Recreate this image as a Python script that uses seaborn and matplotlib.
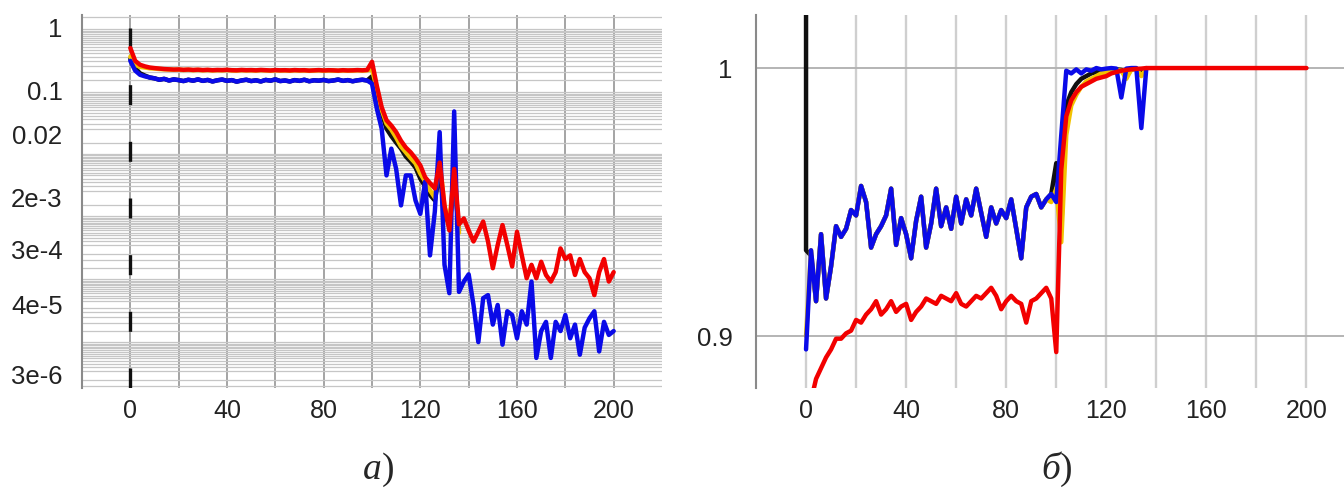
import numpy as np
import seaborn as sns
import matplotlib
matplotlib.use("Agg")
import matplotlib.pyplot as plt
from matplotlib import ticker

# epochs (every 2nd epoch)
epochs = np.arange(0, 201, 2)
epochs_short = np.arange(0, 137, 2)
# the black accuracy run starts with a vertical drop at epoch 0
epochs_black_b = np.r_[0, epochs_short]

# ---- panel a) : loss, log scale ----
loss_red = [
    0.48, 0.30, 0.26, 0.245, 0.235, 0.230, 0.226, 0.222, 0.220, 0.218,
    0.219, 0.216, 0.218, 0.215, 0.217, 0.214, 0.216, 0.213, 0.215, 0.214,
    0.216, 0.213, 0.212, 0.215, 0.213, 0.214, 0.212, 0.215, 0.213, 0.211,
    0.214, 0.212, 0.213, 0.211, 0.214, 0.212, 0.213, 0.210, 0.212, 0.214,
    0.211, 0.213, 0.212, 0.210, 0.213, 0.211, 0.212, 0.214, 0.212, 0.215,
    0.29, 0.12, 0.055, 0.034, 0.028, 0.022, 0.016, 0.0125, 0.0105, 0.0084,
    0.0065, 0.0042, 0.0034, 0.0028, 0.0072, 0.0015, 6.0e-4, 0.0057, 7.5e-4, 9.3e-4,
    6.0e-4, 4.0e-4, 5.7e-4, 8.3e-4, 4.0e-4, 1.5e-4, 3.5e-4, 7.3e-4, 3.5e-4, 1.6e-4,
    5.7e-4, 2.4e-4, 1.04e-4, 1.7e-4, 1.04e-4, 1.9e-4, 1.17e-4, 9.2e-5, 1.3e-4, 3.1e-4,
    2.1e-4, 2.4e-4, 1.17e-4, 2.1e-4, 1.3e-4, 1.04e-4, 5.6e-5, 1.3e-4, 2.1e-4, 9.2e-5,
    1.3e-4,
]
loss_blue = [
    0.30, 0.21, 0.18, 0.17, 0.163, 0.158, 0.150, 0.155, 0.146, 0.152,
    0.148, 0.143, 0.150, 0.145, 0.152, 0.144, 0.149, 0.141, 0.147, 0.151,
    0.144, 0.148, 0.140, 0.146, 0.150, 0.143, 0.147, 0.141, 0.149, 0.145,
    0.152, 0.143, 0.146, 0.141, 0.148, 0.144, 0.150, 0.142, 0.147, 0.145,
    0.149, 0.143, 0.146, 0.151, 0.144, 0.148, 0.142, 0.147, 0.150, 0.146,
    0.13, 0.052, 0.025, 0.0045, 0.012, 0.0057, 0.0015, 0.0045, 0.0045, 0.0018,
    0.0011, 0.0036, 2.4e-4, 0.0012, 0.022, 1.7e-4, 6.0e-5, 0.047, 6.3e-5, 9.2e-5,
    1.2e-4, 3.9e-5, 1.0e-5, 5.0e-5, 5.6e-5, 1.9e-5, 3.9e-5, 9.1e-6, 3.1e-5, 2.7e-5,
    1.15e-5, 3.1e-5, 1.9e-5, 9.2e-5, 5.6e-6, 1.5e-5, 2.1e-5, 5.6e-6, 2.1e-5, 1.5e-5,
    2.7e-5, 1.15e-5, 1.9e-5, 6.3e-6, 1.7e-5, 2.4e-5, 3.1e-5, 7.1e-6, 2.1e-5, 1.3e-5,
    1.5e-5,
]
# black and yellow runs are mostly hidden under the blue / red ones
loss_black = [
    0.32, 0.23, 0.19, 0.175, 0.163, 0.158, 0.150, 0.155, 0.146, 0.152,
    0.148, 0.143, 0.150, 0.145, 0.152, 0.144, 0.149, 0.141, 0.147, 0.151,
    0.144, 0.148, 0.140, 0.146, 0.150, 0.143, 0.147, 0.141, 0.149, 0.145,
    0.152, 0.143, 0.146, 0.141, 0.148, 0.144, 0.150, 0.142, 0.147, 0.145,
    0.149, 0.143, 0.146, 0.151, 0.144, 0.148, 0.142, 0.147, 0.150, 0.146,
    0.17, 0.10, 0.045, 0.025, 0.019, 0.015, 0.012, 0.009, 0.0075, 0.006,
    0.004, 0.003, 0.0022, 0.0018, 0.005, 0.0012, 7.0e-4, 0.004, 6.0e-4,
]
loss_yellow = [
    0.35, 0.26, 0.24, 0.235, 0.228, 0.226, 0.222, 0.22, 0.218, 0.216,
    0.217, 0.214, 0.216, 0.213, 0.215, 0.212, 0.214, 0.211, 0.213, 0.212,
    0.214, 0.211, 0.210, 0.213, 0.211, 0.212, 0.210, 0.213, 0.211, 0.209,
    0.212, 0.210, 0.211, 0.209, 0.212, 0.210, 0.211, 0.208, 0.210, 0.212,
    0.209, 0.211, 0.210, 0.208, 0.211, 0.209, 0.210, 0.212, 0.210, 0.212,
    0.22, 0.11, 0.05, 0.03, 0.024, 0.018, 0.013, 0.0105, 0.0085, 0.007,
    0.0048, 0.0036, 0.0026, 0.002, 0.008, 0.0014, 8.0e-4, 0.0055, 5.5e-4,
]
yticks_a = [1, 0.1, 0.02, 2e-3, 3e-4, 4e-5, 3e-6]
ylabels_a = ["1", "0.1", "0.02", "2e-3", "3e-4", "4e-5", "3e-6"]

# ---- panel б) : accuracy ----
acc_red = [
    0.870, 0.876, 0.884, 0.888, 0.892, 0.895, 0.899, 0.899, 0.901, 0.902,
    0.906, 0.905, 0.908, 0.910, 0.913, 0.908, 0.910, 0.913, 0.909, 0.911,
    0.912, 0.906, 0.909, 0.911, 0.914, 0.913, 0.912, 0.915, 0.914, 0.913,
    0.916, 0.912, 0.911, 0.913, 0.915, 0.914, 0.916, 0.918, 0.915, 0.910,
    0.913, 0.915, 0.913, 0.912, 0.905, 0.913, 0.914, 0.916, 0.918, 0.914,
    0.894, 0.962, 0.982, 0.988, 0.991, 0.993, 0.994, 0.995, 0.996, 0.9965,
    0.997, 0.998, 0.9985, 0.999, 0.9993, 0.9995, 0.9997, 0.9998, 1.0, 1.0,
    1.0, 1.0, 1.0, 1.0, 1.0, 1.0, 1.0, 1.0, 1.0, 1.0,
    1.0, 1.0, 1.0, 1.0, 1.0, 1.0, 1.0, 1.0, 1.0, 1.0,
    1.0, 1.0, 1.0, 1.0, 1.0, 1.0, 1.0, 1.0, 1.0, 1.0,
    1.0,
]
acc_blue = [
    0.895, 0.932, 0.913, 0.938, 0.914, 0.926, 0.941, 0.937, 0.940, 0.947,
    0.945, 0.956, 0.950, 0.933, 0.938, 0.941, 0.945, 0.955, 0.934, 0.944,
    0.938, 0.929, 0.943, 0.952, 0.933, 0.942, 0.955, 0.941, 0.948, 0.940,
    0.952, 0.942, 0.951, 0.945, 0.955, 0.946, 0.937, 0.948, 0.942, 0.947,
    0.944, 0.951, 0.940, 0.929, 0.948, 0.952, 0.953, 0.948, 0.951, 0.953,
    0.950, 0.975, 0.999, 0.998, 0.9995, 0.998, 0.9995, 0.999, 1.0, 0.9995,
    0.9998, 1.0, 0.9998, 0.989, 0.9998, 1.0, 1.0, 0.9776, 1.0,
]
acc_black = [
    1.03, 0.932, 0.93, 0.913, 0.938, 0.914, 0.926, 0.941, 0.937, 0.940, 0.947,
    0.945, 0.956, 0.950, 0.933, 0.938, 0.941, 0.945, 0.955, 0.934, 0.944,
    0.938, 0.929, 0.943, 0.952, 0.933, 0.942, 0.955, 0.941, 0.948, 0.940,
    0.952, 0.942, 0.951, 0.945, 0.955, 0.946, 0.937, 0.948, 0.942, 0.947,
    0.944, 0.951, 0.940, 0.929, 0.948, 0.952, 0.953, 0.948, 0.951, 0.953,
    0.9645, 0.94, 0.986, 0.991, 0.994, 0.996, 0.997, 0.998, 0.9985, 0.999,
    0.999, 0.9993, 0.9995, 0.9993, 0.997, 0.9995, 0.9997, 0.998, 0.9998,
]
acc_yellow = [
    0.90, 0.932, 0.913, 0.938, 0.914, 0.926, 0.941, 0.937, 0.940, 0.947,
    0.945, 0.956, 0.950, 0.933, 0.938, 0.941, 0.945, 0.955, 0.934, 0.944,
    0.938, 0.929, 0.943, 0.952, 0.933, 0.942, 0.955, 0.941, 0.948, 0.940,
    0.952, 0.942, 0.951, 0.945, 0.955, 0.946, 0.937, 0.948, 0.942, 0.947,
    0.944, 0.951, 0.940, 0.929, 0.948, 0.952, 0.953, 0.948, 0.951, 0.950,
    0.955, 0.935, 0.975, 0.986, 0.99, 0.993, 0.995, 0.996, 0.997, 0.998,
    0.9985, 0.999, 0.9993, 0.999, 0.996, 0.9995, 0.9997, 0.997, 0.9998,
]
yticks_b = [0.9, 1.0]
ylabels_b = ["0.9", "1"]

xticks = [0, 40, 80, 120, 160, 200]
xgrid = list(range(0, 201, 20))

RED, BLUE, BLACK, YELLOW = "#f20000", "#0a0ae8", "#101010", "#f2c200"

sns.set_theme(style="white")
plt.rcParams["font.family"] = ["Liberation Sans", "DejaVu Sans"]

fig = plt.figure(figsize=(13.44, 4.9), dpi=100)
ax_a = fig.add_axes([82 / 1344, 102 / 490, 580 / 1344, 373 / 490])
ax_b = fig.add_axes([756 / 1344, 102 / 490, 588 / 1344, 373 / 490])


def draw_series(ax, x, y, color):
    sns.lineplot(x=x, y=y, color=color, lw=3.2, ax=ax, estimator=None,
                 sort=False, legend=False, zorder=3)


# panel a
for y, c in [(loss_black, BLACK), (loss_yellow, YELLOW)]:
    draw_series(ax_a, epochs_short, y, c)
draw_series(ax_a, epochs, loss_blue, BLUE)
draw_series(ax_a, epochs, loss_red, RED)
ax_a.axvline(0, color=BLACK, lw=2.4, ls=(0, (6, 11)), zorder=2.5)

ax_a.set_yscale("log")
ax_a.set_xlim(-20, 220)
ax_a.set_ylim(1.86e-6, 1.61)
ax_a.yaxis.set_major_locator(ticker.FixedLocator(yticks_a))
ax_a.yaxis.set_major_formatter(ticker.FixedFormatter(ylabels_a))
ax_a.yaxis.set_minor_locator(ticker.LogLocator(base=10, subs=np.arange(1, 10, 0.5), numticks=100))
ax_a.yaxis.set_minor_formatter(ticker.NullFormatter())
ax_a.grid(axis="y", which="minor", color="#c6c6c6", lw=0.9, zorder=1)
ax_a.xaxis.set_major_locator(ticker.FixedLocator(xticks))
ax_a.xaxis.set_minor_locator(ticker.FixedLocator(xgrid))
ax_a.grid(axis="x", which="both", color="#a4a4a4", lw=1.4, zorder=1)

# panel б
draw_series(ax_b, epochs_black_b, acc_black, BLACK)
draw_series(ax_b, epochs_short, acc_yellow, YELLOW)
draw_series(ax_b, epochs_short, acc_blue, BLUE)
draw_series(ax_b, epochs, acc_red, RED)

ax_b.set_xlim(-20, 215)
ax_b.set_ylim(0.8806, 1.0198)
ax_b.set_yticks(yticks_b)
ax_b.set_yticklabels(ylabels_b)
ax_b.grid(axis="y", which="major", color="#b4b4b4", lw=1.4, zorder=1)
ax_b.xaxis.set_major_locator(ticker.FixedLocator(xticks))
ax_b.xaxis.set_minor_locator(ticker.FixedLocator(xgrid))
ax_b.grid(axis="x", which="both", color="#cfcfcf", lw=1.7, zorder=1)
ax_b.tick_params(axis="y", which="major", length=6, width=2, color="white", direction="inout")

for ax in (ax_a, ax_b):
    sns.despine(ax=ax, top=True, right=True, bottom=True)
    ax.spines["left"].set_color("#8a8a8a")
    ax.spines["left"].set_linewidth(1.5)
    ax.tick_params(axis="x", which="both", length=0, pad=8, labelsize=18, labelcolor="#222222")
    ax.tick_params(axis="y", labelsize=18.5, labelcolor="#222222", pad=14)
    ax.tick_params(axis="y", which="minor", length=0)
    ax.set_xlabel("")
    ax.set_ylabel("")
ax_a.tick_params(axis="y", which="major", length=0)

serif = ["Liberation Serif", "DejaVu Serif"]
fig.text(382 / 1344, 0.022, "а", family=serif, style="italic", size=27, ha="right", va="baseline")
fig.text(382 / 1344, 0.022, ")", family=serif, size=27, ha="left", va="baseline")
fig.text(1060 / 1344, 0.022, "б", family=serif, style="italic", size=27, ha="right", va="baseline")
fig.text(1060 / 1344, 0.022, ")", family=serif, size=27, ha="left", va="baseline")

fig.savefig("out.png", dpi=100, facecolor="white")
